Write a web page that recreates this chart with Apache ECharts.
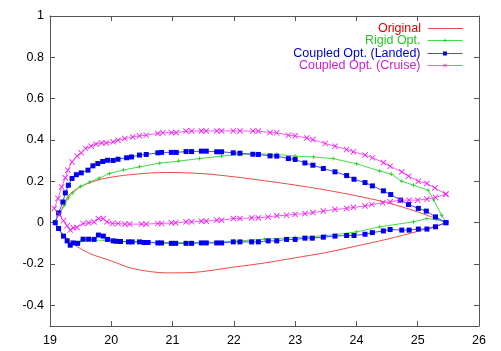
<!DOCTYPE html>
<html>
<head>
<meta charset="utf-8">
<script src="https://cdn.jsdelivr.net/npm/echarts@6/dist/echarts.min.js"></script>
<style>
  html, body { margin: 0; padding: 0; background: #fff; }
  #main { width: 501px; height: 351px; }
</style>
</head>
<body>
<div id="main"></div>
<script>
let myChart = echarts.init(document.getElementById("main"));

// Original airfoil
let origUpperX = [19.08, 19.15, 19.21, 19.29, 19.4, 19.62, 19.89, 20.3, 20.9, 21.5, 22.0, 22.5, 23.0, 23.5, 24.0, 24.5, 25.0, 25.47];
let origUpperY = [0, 0.04, 0.076, 0.125, 0.157, 0.19, 0.214, 0.232, 0.243, 0.237, 0.222, 0.203, 0.182, 0.158, 0.13, 0.097, 0.052, 0];
let origLowerX = [19.08, 19.15, 19.22, 19.32, 19.45, 19.67, 20.0, 20.35, 20.9, 21.33, 22.0, 22.5, 23.0, 23.5, 24.0, 24.5, 25.0, 25.47];
let origLowerY = [0, -0.035, -0.06, -0.085, -0.117, -0.152, -0.185, -0.222, -0.243, -0.241, -0.215, -0.195, -0.17, -0.145, -0.113, -0.08, -0.042, 0];

// Rigid Opt.
let rigidUpperX = [19.06, 19.15, 19.24, 19.3, 19.37, 19.5, 19.65, 19.8, 19.97, 20.2, 20.46, 20.79, 21.1, 21.44, 21.8, 22.1, 22.4, 22.7, 23.0, 23.3, 23.62, 24.0, 24.38, 24.57, 24.74, 24.93, 25.17, 25.26, 25.39, 25.47];
let rigidUpperY = [0, 0.04, 0.085, 0.12, 0.144, 0.175, 0.197, 0.215, 0.238, 0.255, 0.27, 0.288, 0.298, 0.31, 0.322, 0.33, 0.333, 0.33, 0.322, 0.318, 0.31, 0.285, 0.25, 0.235, 0.2, 0.182, 0.157, 0.11, 0.036, 0];
let rigidLowerX = [19.06, 19.14, 19.22, 19.3, 19.38, 19.5, 19.7, 19.9, 20.1, 20.5, 21.0, 21.5, 22.0, 22.5, 23.0, 23.5, 24.0, 24.38, 24.93, 25.15, 25.3, 25.47];
let rigidLowerY = [0, -0.03, -0.065, -0.095, -0.1, -0.09, -0.085, -0.085, -0.09, -0.093, -0.097, -0.096, -0.09, -0.08, -0.072, -0.063, -0.045, -0.02, 0.004, 0.02, 0.015, 0];

// Coupled Opt. (Landed)
let landedUpperX = [19.085, 19.14, 19.21, 19.25, 19.3, 19.36, 19.43, 19.51, 19.62, 19.7, 19.78, 19.86, 19.94, 20.03, 20.11, 20.25, 20.33, 20.46, 20.57, 20.76, 20.82, 20.98, 21.06, 21.22, 21.31, 21.47, 21.55, 21.72, 21.8, 21.99, 22.1, 22.31, 22.4, 22.59, 22.7, 22.89, 23.0, 23.16, 23.29, 23.46, 23.65, 23.84, 23.96, 24.14, 24.26, 24.44, 24.56, 24.72, 24.85, 25.01, 25.14, 25.29, 25.46];
let landedUpperY = [0, 0.047, 0.1, 0.144, 0.181, 0.214, 0.232, 0.241, 0.254, 0.275, 0.286, 0.296, 0.302, 0.301, 0.307, 0.314, 0.318, 0.327, 0.33, 0.338, 0.34, 0.34, 0.34, 0.344, 0.344, 0.346, 0.346, 0.343, 0.343, 0.338, 0.336, 0.331, 0.33, 0.323, 0.322, 0.31, 0.306, 0.289, 0.278, 0.262, 0.246, 0.228, 0.21, 0.194, 0.178, 0.154, 0.136, 0.109, 0.088, 0.069, 0.056, 0.028, 0];
let landedLowerX = [19.085, 19.14, 19.22, 19.28, 19.33, 19.38, 19.45, 19.54, 19.63, 19.72, 19.79, 19.87, 19.94, 20.03, 20.08, 20.15, 20.28, 20.34, 20.46, 20.54, 20.6, 20.76, 20.82, 20.98, 21.05, 21.22, 21.31, 21.47, 21.55, 21.72, 21.8, 21.99, 22.1, 22.29, 22.4, 22.56, 22.7, 22.86, 23.0, 23.16, 23.28, 23.46, 23.65, 23.84, 23.96, 24.14, 24.26, 24.44, 24.55, 24.74, 24.86, 25.01, 25.15, 25.29, 25.46];
let landedLowerY = [0, -0.028, -0.065, -0.088, -0.109, -0.098, -0.1, -0.08, -0.08, -0.081, -0.06, -0.065, -0.081, -0.088, -0.09, -0.091, -0.093, -0.093, -0.093, -0.096, -0.096, -0.098, -0.098, -0.1, -0.1, -0.1, -0.1, -0.098, -0.098, -0.098, -0.098, -0.093, -0.093, -0.093, -0.093, -0.088, -0.088, -0.081, -0.081, -0.075, -0.075, -0.07, -0.065, -0.062, -0.062, -0.056, -0.048, -0.04, -0.033, -0.036, -0.036, -0.031, -0.031, -0.02, 0];

// Coupled Opt. (Cruise)
let cruiseUpperX = [19.07, 19.13, 19.19, 19.25, 19.29, 19.36, 19.44, 19.51, 19.58, 19.67, 19.75, 19.84, 19.92, 20.03, 20.11, 20.22, 20.35, 20.46, 20.57, 20.76, 20.84, 20.98, 21.06, 21.22, 21.31, 21.47, 21.55, 21.72, 21.8, 21.99, 22.1, 22.31, 22.4, 22.59, 22.7, 22.89, 23.0, 23.19, 23.29, 23.49, 23.65, 23.84, 23.95, 24.14, 24.26, 24.44, 24.55, 24.74, 24.85, 25.01, 25.15, 25.28, 25.46];
let cruiseUpperY = [0.069, 0.117, 0.173, 0.217, 0.254, 0.294, 0.322, 0.338, 0.359, 0.37, 0.38, 0.386, 0.386, 0.391, 0.399, 0.407, 0.415, 0.42, 0.423, 0.432, 0.435, 0.436, 0.436, 0.443, 0.443, 0.444, 0.444, 0.444, 0.444, 0.444, 0.444, 0.443, 0.443, 0.436, 0.435, 0.423, 0.42, 0.41, 0.402, 0.383, 0.37, 0.354, 0.343, 0.327, 0.314, 0.291, 0.273, 0.246, 0.225, 0.2, 0.19, 0.168, 0.138];
let cruiseLowerX = [19.07, 19.15, 19.22, 19.28, 19.33, 19.38, 19.44, 19.54, 19.63, 19.72, 19.79, 19.87, 19.93, 20.02, 20.11, 20.22, 20.3, 20.49, 20.57, 20.76, 20.82, 20.98, 21.05, 21.22, 21.31, 21.47, 21.55, 21.72, 21.8, 21.99, 22.1, 22.29, 22.4, 22.56, 22.7, 22.86, 23.0, 23.16, 23.29, 23.46, 23.65, 23.84, 23.95, 24.14, 24.25, 24.43, 24.55, 24.71, 24.86, 25.0, 25.15, 25.29, 25.46];
let cruiseLowerY = [0.069, 0.04, 0.01, -0.015, -0.036, -0.025, -0.023, -0.004, -0.001, 0.004, 0.02, 0.02, 0.004, -0.004, -0.004, -0.007, -0.007, -0.007, -0.007, -0.004, -0.004, -0.001, -0.001, 0.004, 0.004, 0.007, 0.007, 0.012, 0.012, 0.02, 0.02, 0.023, 0.023, 0.028, 0.033, 0.036, 0.04, 0.044, 0.049, 0.056, 0.064, 0.069, 0.074, 0.081, 0.088, 0.096, 0.101, 0.109, 0.109, 0.109, 0.114, 0.122, 0.138];

let seriesNames = ["Original", "Rigid Opt.", "Coupled Opt. (Landed)", "Coupled Opt. (Cruise)"];
let yTicks = [-0.4, -0.2, 0, 0.2, 0.4, 0.6, 0.8, 1];

// trailing edge -> upper -> leading edge -> lower -> trailing edge
function outline(ux, uy, lx, ly) {
  let pts = [];
  for (let i = ux.length - 1; i >= 0; i--) pts.push([ux[i], uy[i]]);
  for (let i = 1; i < lx.length; i++) pts.push([lx[i], ly[i]]);
  return pts;
}

let frame = "#555";
let font = "Liberation Sans, Arial, sans-serif";
let plusPath = "path://M4,0H6V4H10V6H6V10H4V6H0V4H4Z";
let crossPath = "path://M0,1L1,0L5,4L9,0L10,1L6,5L10,9L9,10L5,6L1,10L0,9L4,5Z";
let lineColors = ["#f04848", "#44dd44", "#4848ff", "#f060f0"];
let markColors = ["#ff0000", "#22cc22", "#0000ee", "#ee22ee"];
let textColors = ["#e00000", "#22c822", "#0000c0", "#d020d0"];

function xAx(pos) {
  return {
    type: "value", position: pos, min: 19, max: 26, interval: 1,
    axisLine: { show: true, onZero: false, lineStyle: { color: frame } },
    axisTick: { inside: true, length: 5, lineStyle: { color: frame } },
    axisLabel: { show: pos === "bottom", color: "#000", fontFamily: font, fontSize: 12.5, margin: 8 },
    splitLine: { show: false },
  };
}
function yAx(pos) {
  return {
    type: "value", position: pos, min: -0.5, max: 1,
    axisLine: { show: true, onZero: false, lineStyle: { color: frame } },
    axisTick: { inside: true, length: 5, customValues: yTicks, lineStyle: { color: frame } },
    axisLabel: { show: pos === "left", customValues: yTicks, color: "#000", fontFamily: font, fontSize: 12.5, margin: 6 },
    splitLine: { show: false },
  };
}

let legendTops = [22, 34, 47, 59];
let legends = [];
for (let i = 0; i < seriesNames.length; i++) {
  let item = i === 0 ? { name: seriesNames[i], icon: "rect" } : seriesNames[i];
  legends.push({
    data: [item],
    orient: "vertical",
    align: "right",
    right: 38,
    top: legendTops[i],
    padding: 0,
    itemWidth: 35,
    itemHeight: i === 0 ? 1 : 5,
    selectedMode: false,
    lineStyle: { width: 1 },
    textStyle: { color: textColors[i], fontFamily: font, fontSize: 12.5, padding: [0, 2, 0, 0] },
  });
}

let option = {
  animation: false,
  backgroundColor: "#fff",
  grid: { left: 50, right: 22, top: 16, bottom: 25 },
  legend: legends,
  xAxis: [xAx("bottom"), xAx("top")],
  yAxis: [yAx("left"), yAx("right")],
  series: [
    {
      name: seriesNames[0], type: "line", symbol: "none", smooth: 0.3,
      data: outline(origUpperX, origUpperY, origLowerX, origLowerY),
      lineStyle: { color: lineColors[0], width: 1 }, itemStyle: { color: lineColors[0] },
    },
    {
      name: seriesNames[1], type: "line", symbol: plusPath, symbolSize: 4, showAllSymbol: true,
      data: outline(rigidUpperX, rigidUpperY, rigidLowerX, rigidLowerY),
      lineStyle: { color: lineColors[1], width: 1 }, itemStyle: { color: markColors[1] },
    },
    {
      name: seriesNames[2], type: "line", symbol: "rect", symbolSize: 5, showAllSymbol: true,
      data: outline(landedUpperX, landedUpperY, landedLowerX, landedLowerY),
      lineStyle: { color: lineColors[2], width: 1 }, itemStyle: { color: markColors[2] },
    },
    {
      name: seriesNames[3], type: "line", symbol: crossPath, symbolSize: 6, showAllSymbol: true,
      data: outline(cruiseUpperX, cruiseUpperY, cruiseLowerX, cruiseLowerY),
      lineStyle: { color: lineColors[3], width: 1 }, itemStyle: { color: markColors[3] },
    },
  ],
};
myChart.setOption(option);
</script>
</body>
</html>
